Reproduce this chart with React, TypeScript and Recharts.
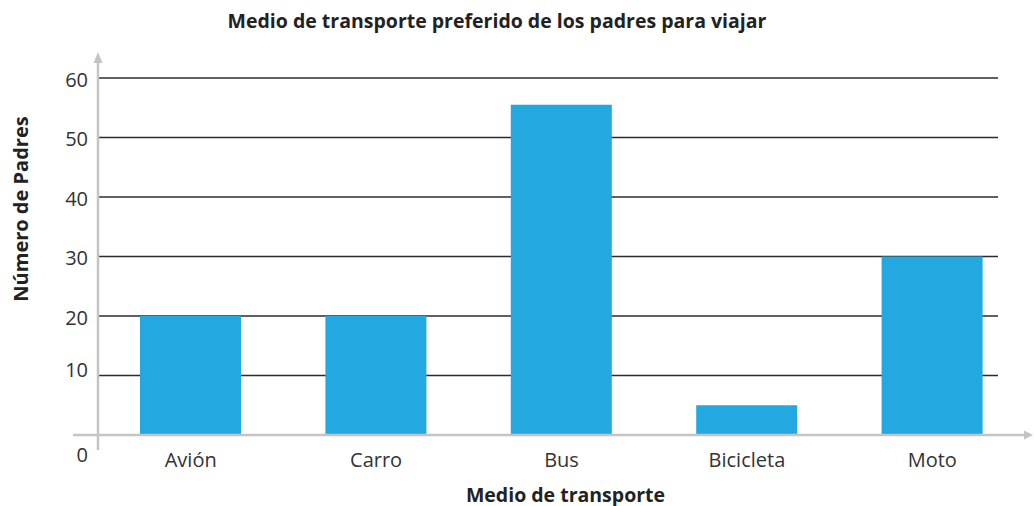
import { BarChart, Bar, XAxis, YAxis, CartesianGrid } from 'recharts'

const categorias = ['Avión', 'Carro', 'Bus', 'Bicicleta', 'Moto']
const padres = [20, 20, 55.5, 5, 30]
const yTicks = [0, 10, 20, 30, 40, 50, 60]

const titulo = 'Medio de transporte preferido de los padres para viajar'
const tituloX = 'Medio de transporte'
const tituloY = 'Número de Padres'

const data = categorias.map((medio, i) => ({ medio, padres: padres[i] }))

const W = 1034
const H = 506
const margin = { top: 78, right: 9, bottom: 0, left: 38 }
const yAxisWidth = 60
const xAxisHeight = 71
const plotLeft = margin.left + yAxisWidth
const plotBottom = H - margin.bottom - xAxisHeight

const font = '"Open Sans", "Noto Sans", sans-serif'
const axisGray = '#c4c4c4'
const textColor = '#333333'

// the 0 sits under the axis and the 10 a bit above its line, like the original
function tickOffset(v: number) {
  if (v === 0) return 19
  if (v === 10) return -6
  return 1
}

function YTick(props: any) {
  const { y, payload } = props
  return (
    <text
      x={plotLeft - 10}
      y={y + tickOffset(payload.value)}
      textAnchor="end"
      dominantBaseline="central"
      fontFamily={font}
      fontSize={20}
      fill={textColor}
    >
      {payload.value}
    </text>
  )
}

function XTick(props: any) {
  const { x, y, payload } = props
  return (
    <text x={x} y={y + 16} textAnchor="middle" dominantBaseline="central" fontFamily={font} fontSize={20} fill={textColor}>
      {payload.value}
    </text>
  )
}

function GridLine(props: any) {
  const { x1, x2, y1, y2 } = props
  if (y1 >= plotBottom - 1) return <g />
  return <line x1={x1} x2={x2 - 27} y1={y1} y2={y2} stroke="#2b2b2b" strokeWidth={1.3} />
}

export default function App() {
  return (
    <div style={{ position: 'absolute', left: 0, top: 0, width: W, height: H, background: '#fff' }}>
      <BarChart width={W} height={H} data={data} margin={margin} style={{ position: 'absolute', left: 0, top: 0 }}>
        <CartesianGrid vertical={false} horizontal={GridLine} />
        <XAxis
          dataKey="medio"
          height={xAxisHeight}
          axisLine={false}
          tickLine={false}
          tick={XTick}
          interval={0}
          label={{
            content: (p: any) => {
              const vb = p.viewBox
              return (
                <text
                  x={vb.x + vb.width / 2 + 4}
                  y={vb.y + 59}
                  textAnchor="middle"
                  dominantBaseline="central"
                  fontFamily={font}
                  fontWeight={700}
                  fontSize={19.5}
                  fill="#222"
                >
                  {tituloX}
                </text>
              )
            },
          }}
        />
        <YAxis
          width={yAxisWidth}
          domain={[0, 60]}
          ticks={yTicks}
          axisLine={false}
          tickLine={false}
          tick={YTick}
          label={{
            content: () => (
              <text
                x={20}
                y={209}
                transform="rotate(-90 20 209)"
                textAnchor="middle"
                dominantBaseline="central"
                fontFamily={font}
                fontWeight={700}
                fontSize={20}
                fill="#222"
              >
                {tituloY}
              </text>
            ),
          }}
        />
        <Bar dataKey="padres" fill="#23a8e0" barSize={101} isAnimationActive={false} />
      </BarChart>
      <svg width={W} height={H} style={{ position: 'absolute', left: 0, top: 0, pointerEvents: 'none' }}>
        <text x={497} y={20} textAnchor="middle" dominantBaseline="central" fontFamily={font} fontWeight={700} fontSize={19.5} fill="#222">
          {titulo}
        </text>
        <line x1={plotLeft} x2={plotLeft} y1={60} y2={plotBottom + 15} stroke={axisGray} strokeWidth={2.5} />
        <polygon points={`${plotLeft - 4.5},${63} ${plotLeft + 4.5},${63} ${plotLeft},${52}`} fill={axisGray} />
        <line x1={plotLeft - 25} x2={W - 8} y1={plotBottom} y2={plotBottom} stroke={axisGray} strokeWidth={2.5} />
        <polygon points={`${W - 10},${plotBottom - 4.5} ${W - 10},${plotBottom + 4.5} ${W - 1},${plotBottom}`} fill={axisGray} />
      </svg>
    </div>
  )
}
